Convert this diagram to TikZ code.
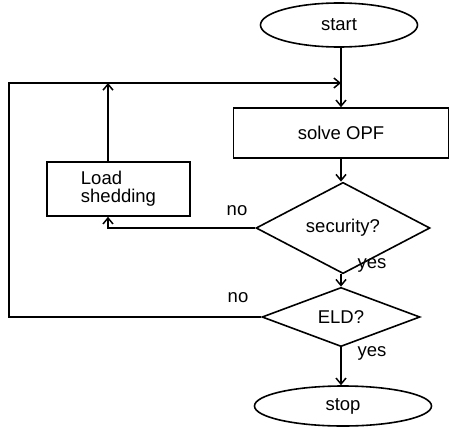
\documentclass[tikz,border=0pt]{standalone}
\usepackage{fontspec}
\setmainfont{Liberation Sans}
\usetikzlibrary{shapes.geometric,arrows.meta}
\begin{document}
\begin{tikzpicture}[x=1pt,y=-1pt,
  every node/.style={font=\fontsize{18.5}{18}\selectfont},
  line/.style={line width=1.6pt},
  arr/.style={line, -{Straight Barb[length=6pt,width=10pt,line width=1.5pt]}},
  term/.style={draw, line width=1.6pt, ellipse, inner sep=0pt},
  proc/.style={draw, line width=1.6pt, rectangle, inner sep=0pt},
  dec/.style={draw, line width=1.6pt, diamond, inner sep=0pt},
  lbl/.style={inner sep=0pt}]
\useasboundingbox (0,0) rectangle (449,428);
\node[term, minimum width=157pt, minimum height=44pt] (start) at (339,25) {start};
\node[proc, minimum width=215pt, minimum height=50pt] (opf) at (341,133) {solve OPF};
\node[proc, minimum width=143pt, minimum height=54pt, align=left] (load) at (118.5,189) {Load\\shedding};
\node[dec, minimum width=174pt, minimum height=59pt] (sec) at (343,228) {security?};
\node[dec, minimum width=158pt, minimum height=50pt] (eld) at (341,317) {ELD?};
\node[term, minimum width=177pt, minimum height=40pt] (stop) at (343,406) {stop};
\coordinate (j) at (341,83);
\coordinate (lc) at (9,319);
\node[lbl] (no1) at (237,211) {no};
\node[lbl] (no2) at (238,298) {no};
\node[lbl] (yes1) at (372,265) {yes};
\node[lbl] (yes2) at (372,353) {yes};
\draw[line] (start.south -| j) -- (j);
\draw[arr] (j) -- (j |- opf.north);
\draw[arr] (opf.south -| j) -- (j |- sec.north);
\draw[arr] (sec.south -| j) -- (j |- eld.north);
\draw[arr] (eld.south -| j) -- (j |- stop.north);
\draw[arr] (sec.west) -| ([xshift=-10.5pt]load.south);
\draw[arr] ([xshift=-10.5pt]load.north) -- ([xshift=-10.5pt]load.north |- j);
\draw[arr] (eld.west) -- (eld.west -| lc) -- (lc |- j) -- (j);
\end{tikzpicture}
\end{document}
